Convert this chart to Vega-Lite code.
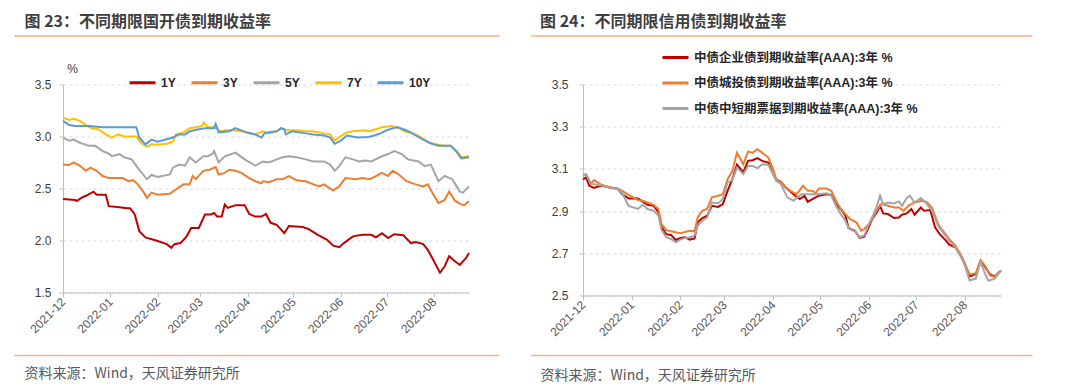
{
  "$schema": "https://vega.github.io/schema/vega-lite/v6.json",
  "background": "white",
  "padding": {"left": 13, "top": 13.5, "right": 0, "bottom": 0},
  "bounds": "flush",
  "spacing": 114,
  "resolve": {"scale": {"color": "independent", "x": "independent", "y": "independent"}, "legend": {"color": "independent"}, "axis": {"x": "independent", "y": "independent"}},
  "config": {
    "font": "Liberation Sans, Noto Sans CJK SC, sans-serif",
    "view": {"stroke": null}
  },
  "datasets": {
    "left": [
      {"t":"2021-12-01","s":"1Y","v":2.40},{"t":"2021-12-09","s":"1Y","v":2.39},{"t":"2021-12-10","s":"1Y","v":2.38},{"t":"2021-12-13","s":"1Y","v":2.41},{"t":"2021-12-16","s":"1Y","v":2.43},{"t":"2021-12-21","s":"1Y","v":2.47},{"t":"2021-12-23","s":"1Y","v":2.44},{"t":"2021-12-29","s":"1Y","v":2.44},{"t":"2021-12-31","s":"1Y","v":2.33},{"t":"2022-01-07","s":"1Y","v":2.32},{"t":"2022-01-12","s":"1Y","v":2.31},{"t":"2022-01-14","s":"1Y","v":2.31},{"t":"2022-01-17","s":"1Y","v":2.25},{"t":"2022-01-20","s":"1Y","v":2.09},{"t":"2022-01-24","s":"1Y","v":2.03},{"t":"2022-01-31","s":"1Y","v":2.00},{"t":"2022-02-07","s":"1Y","v":1.965},{"t":"2022-02-10","s":"1Y","v":1.93},{"t":"2022-02-12","s":"1Y","v":1.965},{"t":"2022-02-16","s":"1Y","v":1.975},{"t":"2022-02-20","s":"1Y","v":2.04},{"t":"2022-02-23","s":"1Y","v":2.12},{"t":"2022-02-28","s":"1Y","v":2.12},{"t":"2022-03-04","s":"1Y","v":2.25},{"t":"2022-03-08","s":"1Y","v":2.25},{"t":"2022-03-10","s":"1Y","v":2.265},{"t":"2022-03-12","s":"1Y","v":2.23},{"t":"2022-03-15","s":"1Y","v":2.23},{"t":"2022-03-17","s":"1Y","v":2.345},{"t":"2022-03-19","s":"1Y","v":2.313},{"t":"2022-03-24","s":"1Y","v":2.34},{"t":"2022-03-30","s":"1Y","v":2.34},{"t":"2022-04-02","s":"1Y","v":2.255},{"t":"2022-04-06","s":"1Y","v":2.23},{"t":"2022-04-10","s":"1Y","v":2.23},{"t":"2022-04-13","s":"1Y","v":2.255},{"t":"2022-04-16","s":"1Y","v":2.17},{"t":"2022-04-20","s":"1Y","v":2.15},{"t":"2022-04-25","s":"1Y","v":2.07},{"t":"2022-04-28","s":"1Y","v":2.14},{"t":"2022-05-07","s":"1Y","v":2.13},{"t":"2022-05-11","s":"1Y","v":2.11},{"t":"2022-05-17","s":"1Y","v":2.055},{"t":"2022-05-23","s":"1Y","v":2.007},{"t":"2022-05-27","s":"1Y","v":1.95},{"t":"2022-05-31","s":"1Y","v":1.936},{"t":"2022-06-03","s":"1Y","v":1.975},{"t":"2022-06-09","s":"1Y","v":2.04},{"t":"2022-06-15","s":"1Y","v":2.055},{"t":"2022-06-21","s":"1Y","v":2.055},{"t":"2022-06-24","s":"1Y","v":2.03},{"t":"2022-06-28","s":"1Y","v":2.07},{"t":"2022-07-02","s":"1Y","v":2.023},{"t":"2022-07-06","s":"1Y","v":2.06},{"t":"2022-07-12","s":"1Y","v":2.05},{"t":"2022-07-17","s":"1Y","v":1.975},{"t":"2022-07-20","s":"1Y","v":1.985},{"t":"2022-07-25","s":"1Y","v":1.965},{"t":"2022-07-28","s":"1Y","v":1.91},{"t":"2022-07-31","s":"1Y","v":1.83},{"t":"2022-08-05","s":"1Y","v":1.69},{"t":"2022-08-08","s":"1Y","v":1.75},{"t":"2022-08-11","s":"1Y","v":1.85},{"t":"2022-08-14","s":"1Y","v":1.81},{"t":"2022-08-18","s":"1Y","v":1.765},{"t":"2022-08-20","s":"1Y","v":1.80},{"t":"2022-08-22","s":"1Y","v":1.83},{"t":"2022-08-24","s":"1Y","v":1.88},
      {"t":"2021-12-01","s":"3Y","v":2.73},{"t":"2021-12-05","s":"3Y","v":2.725},{"t":"2021-12-08","s":"3Y","v":2.75},{"t":"2021-12-12","s":"3Y","v":2.72},{"t":"2021-12-16","s":"3Y","v":2.67},{"t":"2021-12-19","s":"3Y","v":2.70},{"t":"2021-12-23","s":"3Y","v":2.67},{"t":"2021-12-27","s":"3Y","v":2.62},{"t":"2021-12-31","s":"3Y","v":2.60},{"t":"2022-01-06","s":"3Y","v":2.60},{"t":"2022-01-09","s":"3Y","v":2.60},{"t":"2022-01-13","s":"3Y","v":2.57},{"t":"2022-01-16","s":"3Y","v":2.58},{"t":"2022-01-19","s":"3Y","v":2.54},{"t":"2022-01-23","s":"3Y","v":2.46},{"t":"2022-01-25","s":"3Y","v":2.41},{"t":"2022-01-28","s":"3Y","v":2.46},{"t":"2022-02-01","s":"3Y","v":2.44},{"t":"2022-02-09","s":"3Y","v":2.45},{"t":"2022-02-13","s":"3Y","v":2.49},{"t":"2022-02-18","s":"3Y","v":2.54},{"t":"2022-02-22","s":"3Y","v":2.54},{"t":"2022-02-24","s":"3Y","v":2.62},{"t":"2022-02-26","s":"3Y","v":2.59},{"t":"2022-03-03","s":"3Y","v":2.67},{"t":"2022-03-07","s":"3Y","v":2.68},{"t":"2022-03-11","s":"3Y","v":2.705},{"t":"2022-03-13","s":"3Y","v":2.635},{"t":"2022-03-17","s":"3Y","v":2.65},{"t":"2022-03-20","s":"3Y","v":2.68},{"t":"2022-03-24","s":"3Y","v":2.67},{"t":"2022-03-28","s":"3Y","v":2.65},{"t":"2022-04-02","s":"3Y","v":2.60},{"t":"2022-04-06","s":"3Y","v":2.57},{"t":"2022-04-10","s":"3Y","v":2.55},{"t":"2022-04-11","s":"3Y","v":2.57},{"t":"2022-04-15","s":"3Y","v":2.56},{"t":"2022-04-20","s":"3Y","v":2.59},{"t":"2022-04-24","s":"3Y","v":2.59},{"t":"2022-04-28","s":"3Y","v":2.62},{"t":"2022-05-03","s":"3Y","v":2.58},{"t":"2022-05-09","s":"3Y","v":2.57},{"t":"2022-05-14","s":"3Y","v":2.54},{"t":"2022-05-18","s":"3Y","v":2.52},{"t":"2022-05-21","s":"3Y","v":2.54},{"t":"2022-05-27","s":"3Y","v":2.48},{"t":"2022-05-31","s":"3Y","v":2.52},{"t":"2022-06-04","s":"3Y","v":2.60},{"t":"2022-06-11","s":"3Y","v":2.59},{"t":"2022-06-15","s":"3Y","v":2.60},{"t":"2022-06-20","s":"3Y","v":2.59},{"t":"2022-06-24","s":"3Y","v":2.62},{"t":"2022-06-28","s":"3Y","v":2.65},{"t":"2022-07-02","s":"3Y","v":2.62},{"t":"2022-07-05","s":"3Y","v":2.67},{"t":"2022-07-09","s":"3Y","v":2.635},{"t":"2022-07-14","s":"3Y","v":2.57},{"t":"2022-07-20","s":"3Y","v":2.54},{"t":"2022-07-25","s":"3Y","v":2.52},{"t":"2022-07-28","s":"3Y","v":2.54},{"t":"2022-07-31","s":"3Y","v":2.46},{"t":"2022-08-04","s":"3Y","v":2.36},{"t":"2022-08-08","s":"3Y","v":2.39},{"t":"2022-08-11","s":"3Y","v":2.47},{"t":"2022-08-15","s":"3Y","v":2.38},{"t":"2022-08-19","s":"3Y","v":2.345},{"t":"2022-08-21","s":"3Y","v":2.34},{"t":"2022-08-24","s":"3Y","v":2.38},
      {"t":"2021-12-01","s":"5Y","v":2.99},{"t":"2021-12-05","s":"5Y","v":2.96},{"t":"2021-12-08","s":"5Y","v":2.97},{"t":"2021-12-12","s":"5Y","v":2.94},{"t":"2021-12-18","s":"5Y","v":2.91},{"t":"2021-12-22","s":"5Y","v":2.91},{"t":"2021-12-27","s":"5Y","v":2.86},{"t":"2021-12-31","s":"5Y","v":2.835},{"t":"2022-01-02","s":"5Y","v":2.81},{"t":"2022-01-07","s":"5Y","v":2.83},{"t":"2022-01-10","s":"5Y","v":2.80},{"t":"2022-01-15","s":"5Y","v":2.78},{"t":"2022-01-20","s":"5Y","v":2.68},{"t":"2022-01-25","s":"5Y","v":2.59},{"t":"2022-01-28","s":"5Y","v":2.63},{"t":"2022-02-01","s":"5Y","v":2.61},{"t":"2022-02-09","s":"5Y","v":2.635},{"t":"2022-02-11","s":"5Y","v":2.70},{"t":"2022-02-15","s":"5Y","v":2.73},{"t":"2022-02-19","s":"5Y","v":2.72},{"t":"2022-02-22","s":"5Y","v":2.80},{"t":"2022-02-26","s":"5Y","v":2.75},{"t":"2022-03-03","s":"5Y","v":2.81},{"t":"2022-03-06","s":"5Y","v":2.81},{"t":"2022-03-09","s":"5Y","v":2.835},{"t":"2022-03-10","s":"5Y","v":2.86},{"t":"2022-03-13","s":"5Y","v":2.75},{"t":"2022-03-17","s":"5Y","v":2.81},{"t":"2022-03-24","s":"5Y","v":2.845},{"t":"2022-03-30","s":"5Y","v":2.78},{"t":"2022-04-06","s":"5Y","v":2.72},{"t":"2022-04-11","s":"5Y","v":2.76},{"t":"2022-04-15","s":"5Y","v":2.75},{"t":"2022-04-20","s":"5Y","v":2.78},{"t":"2022-04-24","s":"5Y","v":2.80},{"t":"2022-04-28","s":"5Y","v":2.81},{"t":"2022-05-03","s":"5Y","v":2.80},{"t":"2022-05-09","s":"5Y","v":2.78},{"t":"2022-05-14","s":"5Y","v":2.76},{"t":"2022-05-21","s":"5Y","v":2.76},{"t":"2022-05-25","s":"5Y","v":2.73},{"t":"2022-05-28","s":"5Y","v":2.67},{"t":"2022-05-31","s":"5Y","v":2.715},{"t":"2022-06-04","s":"5Y","v":2.80},{"t":"2022-06-09","s":"5Y","v":2.78},{"t":"2022-06-13","s":"5Y","v":2.76},{"t":"2022-06-17","s":"5Y","v":2.77},{"t":"2022-06-21","s":"5Y","v":2.76},{"t":"2022-06-28","s":"5Y","v":2.81},{"t":"2022-07-02","s":"5Y","v":2.83},{"t":"2022-07-06","s":"5Y","v":2.86},{"t":"2022-07-11","s":"5Y","v":2.83},{"t":"2022-07-15","s":"5Y","v":2.78},{"t":"2022-07-22","s":"5Y","v":2.76},{"t":"2022-07-26","s":"5Y","v":2.715},{"t":"2022-07-30","s":"5Y","v":2.73},{"t":"2022-08-04","s":"5Y","v":2.57},{"t":"2022-08-08","s":"5Y","v":2.62},{"t":"2022-08-13","s":"5Y","v":2.59},{"t":"2022-08-18","s":"5Y","v":2.47},{"t":"2022-08-20","s":"5Y","v":2.46},{"t":"2022-08-24","s":"5Y","v":2.52},
      {"t":"2021-12-01","s":"7Y","v":3.18},{"t":"2021-12-05","s":"7Y","v":3.16},{"t":"2021-12-08","s":"7Y","v":3.17},{"t":"2021-12-12","s":"7Y","v":3.15},{"t":"2021-12-15","s":"7Y","v":3.12},{"t":"2021-12-18","s":"7Y","v":3.09},{"t":"2021-12-20","s":"7Y","v":3.08},{"t":"2021-12-24","s":"7Y","v":3.07},{"t":"2021-12-29","s":"7Y","v":3.02},{"t":"2022-01-02","s":"7Y","v":2.99},{"t":"2022-01-06","s":"7Y","v":3.02},{"t":"2022-01-10","s":"7Y","v":3.00},{"t":"2022-01-18","s":"7Y","v":3.00},{"t":"2022-01-21","s":"7Y","v":2.94},{"t":"2022-01-25","s":"7Y","v":2.90},{"t":"2022-01-28","s":"7Y","v":2.925},{"t":"2022-02-01","s":"7Y","v":2.92},{"t":"2022-02-07","s":"7Y","v":2.93},{"t":"2022-02-11","s":"7Y","v":2.95},{"t":"2022-02-13","s":"7Y","v":3.02},{"t":"2022-02-18","s":"7Y","v":3.04},{"t":"2022-02-22","s":"7Y","v":3.08},{"t":"2022-02-26","s":"7Y","v":3.09},{"t":"2022-03-02","s":"7Y","v":3.10},{"t":"2022-03-03","s":"7Y","v":3.135},{"t":"2022-03-06","s":"7Y","v":3.09},{"t":"2022-03-10","s":"7Y","v":3.09},{"t":"2022-03-14","s":"7Y","v":3.05},{"t":"2022-03-17","s":"7Y","v":3.06},{"t":"2022-03-21","s":"7Y","v":3.06},{"t":"2022-03-28","s":"7Y","v":3.05},{"t":"2022-04-06","s":"7Y","v":3.02},{"t":"2022-04-11","s":"7Y","v":3.05},{"t":"2022-04-15","s":"7Y","v":3.03},{"t":"2022-04-20","s":"7Y","v":3.05},{"t":"2022-04-23","s":"7Y","v":3.08},{"t":"2022-04-26","s":"7Y","v":3.06},{"t":"2022-05-03","s":"7Y","v":3.06},{"t":"2022-05-09","s":"7Y","v":3.05},{"t":"2022-05-14","s":"7Y","v":3.05},{"t":"2022-05-21","s":"7Y","v":3.03},{"t":"2022-05-25","s":"7Y","v":3.02},{"t":"2022-05-28","s":"7Y","v":2.96},{"t":"2022-05-31","s":"7Y","v":2.995},{"t":"2022-06-05","s":"7Y","v":3.04},{"t":"2022-06-09","s":"7Y","v":3.05},{"t":"2022-06-16","s":"7Y","v":3.06},{"t":"2022-06-20","s":"7Y","v":3.05},{"t":"2022-06-24","s":"7Y","v":3.07},{"t":"2022-06-28","s":"7Y","v":3.09},{"t":"2022-07-04","s":"7Y","v":3.10},{"t":"2022-07-09","s":"7Y","v":3.08},{"t":"2022-07-13","s":"7Y","v":3.05},{"t":"2022-07-20","s":"7Y","v":3.02},{"t":"2022-07-24","s":"7Y","v":2.99},{"t":"2022-07-29","s":"7Y","v":2.94},{"t":"2022-08-04","s":"7Y","v":2.92},{"t":"2022-08-07","s":"7Y","v":2.91},{"t":"2022-08-12","s":"7Y","v":2.91},{"t":"2022-08-16","s":"7Y","v":2.86},{"t":"2022-08-19","s":"7Y","v":2.80},{"t":"2022-08-24","s":"7Y","v":2.81},
      {"t":"2021-12-01","s":"10Y","v":3.15},{"t":"2021-12-05","s":"10Y","v":3.11},{"t":"2021-12-09","s":"10Y","v":3.10},{"t":"2021-12-18","s":"10Y","v":3.10},{"t":"2021-12-27","s":"10Y","v":3.09},{"t":"2021-12-31","s":"10Y","v":3.09},{"t":"2022-01-09","s":"10Y","v":3.09},{"t":"2022-01-18","s":"10Y","v":3.09},{"t":"2022-01-20","s":"10Y","v":2.99},{"t":"2022-01-24","s":"10Y","v":2.925},{"t":"2022-01-28","s":"10Y","v":2.97},{"t":"2022-02-01","s":"10Y","v":2.95},{"t":"2022-02-11","s":"10Y","v":2.99},{"t":"2022-02-15","s":"10Y","v":3.02},{"t":"2022-02-19","s":"10Y","v":3.02},{"t":"2022-02-22","s":"10Y","v":3.05},{"t":"2022-02-28","s":"10Y","v":3.07},{"t":"2022-03-04","s":"10Y","v":3.08},{"t":"2022-03-10","s":"10Y","v":3.08},{"t":"2022-03-11","s":"10Y","v":3.12},{"t":"2022-03-13","s":"10Y","v":3.04},{"t":"2022-03-20","s":"10Y","v":3.05},{"t":"2022-03-24","s":"10Y","v":3.08},{"t":"2022-03-31","s":"10Y","v":3.04},{"t":"2022-04-06","s":"10Y","v":3.02},{"t":"2022-04-10","s":"10Y","v":2.99},{"t":"2022-04-12","s":"10Y","v":3.03},{"t":"2022-04-15","s":"10Y","v":3.04},{"t":"2022-04-20","s":"10Y","v":3.05},{"t":"2022-04-23","s":"10Y","v":3.08},{"t":"2022-04-25","s":"10Y","v":3.07},{"t":"2022-04-26","s":"10Y","v":3.02},{"t":"2022-04-30","s":"10Y","v":3.05},{"t":"2022-05-09","s":"10Y","v":3.03},{"t":"2022-05-14","s":"10Y","v":3.02},{"t":"2022-05-21","s":"10Y","v":3.01},{"t":"2022-05-25","s":"10Y","v":2.99},{"t":"2022-05-28","s":"10Y","v":2.93},{"t":"2022-06-01","s":"10Y","v":2.96},{"t":"2022-06-05","s":"10Y","v":3.01},{"t":"2022-06-12","s":"10Y","v":2.99},{"t":"2022-06-19","s":"10Y","v":2.995},{"t":"2022-06-23","s":"10Y","v":3.01},{"t":"2022-06-27","s":"10Y","v":3.03},{"t":"2022-07-01","s":"10Y","v":3.06},{"t":"2022-07-08","s":"10Y","v":3.09},{"t":"2022-07-12","s":"10Y","v":3.07},{"t":"2022-07-17","s":"10Y","v":3.04},{"t":"2022-07-20","s":"10Y","v":3.01},{"t":"2022-07-25","s":"10Y","v":2.97},{"t":"2022-07-29","s":"10Y","v":2.94},{"t":"2022-08-04","s":"10Y","v":2.91},{"t":"2022-08-12","s":"10Y","v":2.91},{"t":"2022-08-16","s":"10Y","v":2.85},{"t":"2022-08-19","s":"10Y","v":2.79},{"t":"2022-08-24","s":"10Y","v":2.80}
    ],
    "right": [
      {"t":"2021-12-01","s":"中债企业债到期收益率(AAA):3年 %","v":3.05},{"t":"2021-12-03","s":"中债企业债到期收益率(AAA):3年 %","v":3.06},{"t":"2021-12-05","s":"中债企业债到期收益率(AAA):3年 %","v":3.02},{"t":"2021-12-08","s":"中债企业债到期收益率(AAA):3年 %","v":3.01},{"t":"2021-12-12","s":"中债企业债到期收益率(AAA):3年 %","v":3.02},{"t":"2021-12-16","s":"中债企业债到期收益率(AAA):3年 %","v":3.015},{"t":"2021-12-20","s":"中债企业债到期收益率(AAA):3年 %","v":3.01},{"t":"2021-12-23","s":"中债企业债到期收益率(AAA):3年 %","v":3.005},{"t":"2021-12-26","s":"中债企业债到期收益率(AAA):3年 %","v":2.98},{"t":"2021-12-30","s":"中债企业债到期收益率(AAA):3年 %","v":2.96},{"t":"2022-01-05","s":"中债企业债到期收益率(AAA):3年 %","v":2.96},{"t":"2022-01-08","s":"中债企业债到期收益率(AAA):3年 %","v":2.945},{"t":"2022-01-11","s":"中债企业债到期收益率(AAA):3年 %","v":2.93},{"t":"2022-01-15","s":"中债企业债到期收益率(AAA):3年 %","v":2.925},{"t":"2022-01-18","s":"中债企业债到期收益率(AAA):3年 %","v":2.895},{"t":"2022-01-20","s":"中债企业债到期收益率(AAA):3年 %","v":2.825},{"t":"2022-01-23","s":"中债企业债到期收益率(AAA):3年 %","v":2.79},{"t":"2022-01-26","s":"中债企业债到期收益率(AAA):3年 %","v":2.787},{"t":"2022-01-29","s":"中债企业债到期收益率(AAA):3年 %","v":2.763},{"t":"2022-02-01","s":"中债企业债到期收益率(AAA):3年 %","v":2.773},{"t":"2022-02-04","s":"中债企业债到期收益率(AAA):3年 %","v":2.776},{"t":"2022-02-07","s":"中债企业债到期收益率(AAA):3年 %","v":2.765},{"t":"2022-02-10","s":"中债企业债到期收益率(AAA):3年 %","v":2.77},{"t":"2022-02-12","s":"中债企业债到期收益率(AAA):3年 %","v":2.847},{"t":"2022-02-15","s":"中债企业债到期收益率(AAA):3年 %","v":2.867},{"t":"2022-02-18","s":"中债企业债到期收益率(AAA):3年 %","v":2.878},{"t":"2022-02-21","s":"中债企业债到期收益率(AAA):3年 %","v":2.925},{"t":"2022-02-25","s":"中债企业债到期收益率(AAA):3年 %","v":2.92},{"t":"2022-02-28","s":"中债企业债到期收益率(AAA):3年 %","v":2.933},{"t":"2022-03-03","s":"中债企业债到期收益率(AAA):3年 %","v":2.996},{"t":"2022-03-06","s":"中债企业债到期收益率(AAA):3年 %","v":3.05},{"t":"2022-03-09","s":"中债企业债到期收益率(AAA):3年 %","v":3.12},{"t":"2022-03-13","s":"中债企业债到期收益率(AAA):3年 %","v":3.083},{"t":"2022-03-16","s":"中债企业债到期收益率(AAA):3年 %","v":3.138},{"t":"2022-03-19","s":"中债企业债到期收益率(AAA):3年 %","v":3.141},{"t":"2022-03-22","s":"中债企业债到期收益率(AAA):3年 %","v":3.151},{"t":"2022-03-25","s":"中债企业债到期收益率(AAA):3年 %","v":3.138},{"t":"2022-03-29","s":"中债企业债到期收益率(AAA):3年 %","v":3.13},{"t":"2022-04-01","s":"中债企业债到期收益率(AAA):3年 %","v":3.075},{"t":"2022-04-03","s":"中债企业债到期收益率(AAA):3年 %","v":3.047},{"t":"2022-04-06","s":"中债企业债到期收益率(AAA):3年 %","v":3.036},{"t":"2022-04-09","s":"中债企业债到期收益率(AAA):3年 %","v":3.012},{"t":"2022-04-11","s":"中债企业债到期收益率(AAA):3年 %","v":2.999},{"t":"2022-04-15","s":"中债企业债到期收益率(AAA):3年 %","v":2.973},{"t":"2022-04-18","s":"中债企业债到期收益率(AAA):3年 %","v":2.957},{"t":"2022-04-21","s":"中债企业债到期收益率(AAA):3年 %","v":2.973},{"t":"2022-04-23","s":"中债企业债到期收益率(AAA):3年 %","v":2.944},{"t":"2022-04-26","s":"中债企业债到期收益率(AAA):3年 %","v":2.957},{"t":"2022-04-30","s":"中债企业债到期收益率(AAA):3年 %","v":2.973},{"t":"2022-05-05","s":"中债企业债到期收益率(AAA):3年 %","v":2.98},{"t":"2022-05-08","s":"中债企业债到期收益率(AAA):3年 %","v":2.977},{"t":"2022-05-11","s":"中债企业债到期收益率(AAA):3年 %","v":2.933},{"t":"2022-05-14","s":"中债企业债到期收益率(AAA):3年 %","v":2.91},{"t":"2022-05-17","s":"中债企业债到期收益率(AAA):3年 %","v":2.878},{"t":"2022-05-19","s":"中债企业债到期收益率(AAA):3年 %","v":2.82},{"t":"2022-05-23","s":"中债企业债到期收益率(AAA):3年 %","v":2.807},{"t":"2022-05-26","s":"中债企业债到期收益率(AAA):3年 %","v":2.773},{"t":"2022-05-29","s":"中债企业债到期收益率(AAA):3年 %","v":2.779},{"t":"2022-05-31","s":"中债企业债到期收益率(AAA):3年 %","v":2.81},{"t":"2022-06-03","s":"中债企业债到期收益率(AAA):3年 %","v":2.862},{"t":"2022-06-06","s":"中债企业债到期收益率(AAA):3年 %","v":2.894},{"t":"2022-06-08","s":"中债企业债到期收益率(AAA):3年 %","v":2.925},{"t":"2022-06-10","s":"中债企业债到期收益率(AAA):3年 %","v":2.889},{"t":"2022-06-13","s":"中债企业债到期收益率(AAA):3年 %","v":2.886},{"t":"2022-06-17","s":"中债企业债到期收益率(AAA):3年 %","v":2.867},{"t":"2022-06-20","s":"中债企业债到期收益率(AAA):3年 %","v":2.87},{"t":"2022-06-22","s":"中债企业债到期收益率(AAA):3年 %","v":2.883},{"t":"2022-06-25","s":"中债企业债到期收益率(AAA):3年 %","v":2.889},{"t":"2022-06-28","s":"中债企业债到期收益率(AAA):3年 %","v":2.91},{"t":"2022-06-30","s":"中债企业债到期收益率(AAA):3年 %","v":2.883},{"t":"2022-07-04","s":"中债企业债到期收益率(AAA):3年 %","v":2.917},{"t":"2022-07-06","s":"中债企业债到期收益率(AAA):3年 %","v":2.902},{"t":"2022-07-10","s":"中债企业债到期收益率(AAA):3年 %","v":2.905},{"t":"2022-07-13","s":"中债企业债到期收益率(AAA):3年 %","v":2.823},{"t":"2022-07-16","s":"中债企业债到期收益率(AAA):3年 %","v":2.791},{"t":"2022-07-20","s":"中债企业债到期收益率(AAA):3年 %","v":2.76},{"t":"2022-07-22","s":"中债企业债到期收益率(AAA):3年 %","v":2.741},{"t":"2022-07-26","s":"中债企业债到期收益率(AAA):3年 %","v":2.728},{"t":"2022-07-29","s":"中债企业债到期收益率(AAA):3年 %","v":2.697},{"t":"2022-08-01","s":"中债企业债到期收益率(AAA):3年 %","v":2.65},{"t":"2022-08-04","s":"中债企业债到期收益率(AAA):3年 %","v":2.59},{"t":"2022-08-08","s":"中债企业债到期收益率(AAA):3年 %","v":2.602},{"t":"2022-08-11","s":"中债企业债到期收益率(AAA):3年 %","v":2.665},{"t":"2022-08-14","s":"中债企业债到期收益率(AAA):3年 %","v":2.634},{"t":"2022-08-17","s":"中债企业债到期收益率(AAA):3年 %","v":2.60},{"t":"2022-08-20","s":"中债企业债到期收益率(AAA):3年 %","v":2.59},{"t":"2022-08-24","s":"中债企业债到期收益率(AAA):3年 %","v":2.618},
      {"t":"2021-12-01","s":"中债城投债到期收益率(AAA):3年 %","v":3.07},{"t":"2021-12-03","s":"中债城投债到期收益率(AAA):3年 %","v":3.075},{"t":"2021-12-06","s":"中债城投债到期收益率(AAA):3年 %","v":3.03},{"t":"2021-12-08","s":"中债城投债到期收益率(AAA):3年 %","v":3.047},{"t":"2021-12-12","s":"中债城投债到期收益率(AAA):3年 %","v":3.028},{"t":"2021-12-18","s":"中债城投债到期收益率(AAA):3年 %","v":3.012},{"t":"2021-12-23","s":"中债城投债到期收益率(AAA):3年 %","v":3.007},{"t":"2021-12-26","s":"中债城投债到期收益率(AAA):3年 %","v":2.996},{"t":"2021-12-30","s":"中债城投债到期收益率(AAA):3年 %","v":2.977},{"t":"2022-01-05","s":"中债城投债到期收益率(AAA):3年 %","v":2.952},{"t":"2022-01-08","s":"中债城投债到期收益率(AAA):3年 %","v":2.949},{"t":"2022-01-11","s":"中债城投债到期收益率(AAA):3年 %","v":2.941},{"t":"2022-01-15","s":"中债城投债到期收益率(AAA):3年 %","v":2.93},{"t":"2022-01-18","s":"中债城投债到期收益率(AAA):3年 %","v":2.91},{"t":"2022-01-20","s":"中债城投债到期收益率(AAA):3年 %","v":2.838},{"t":"2022-01-23","s":"中债城投债到期收益率(AAA):3年 %","v":2.81},{"t":"2022-01-26","s":"中债城投债到期收益率(AAA):3年 %","v":2.804},{"t":"2022-01-29","s":"中债城投债到期收益率(AAA):3年 %","v":2.80},{"t":"2022-02-01","s":"中债城投债到期收益率(AAA):3年 %","v":2.795},{"t":"2022-02-07","s":"中债城投债到期收益率(AAA):3年 %","v":2.807},{"t":"2022-02-10","s":"中债城投债到期收益率(AAA):3年 %","v":2.804},{"t":"2022-02-12","s":"中债城投债到期收益率(AAA):3年 %","v":2.87},{"t":"2022-02-15","s":"中债城投债到期收益率(AAA):3年 %","v":2.902},{"t":"2022-02-18","s":"中债城投债到期收益率(AAA):3年 %","v":2.91},{"t":"2022-02-21","s":"中债城投债到期收益率(AAA):3年 %","v":2.965},{"t":"2022-02-25","s":"中债城投债到期收益率(AAA):3年 %","v":2.973},{"t":"2022-02-28","s":"中债城投债到期收益率(AAA):3年 %","v":2.98},{"t":"2022-03-03","s":"中债城投债到期收益率(AAA):3年 %","v":3.051},{"t":"2022-03-06","s":"中债城投债到期收益率(AAA):3年 %","v":3.09},{"t":"2022-03-09","s":"中债城投债到期收益率(AAA):3年 %","v":3.177},{"t":"2022-03-13","s":"中债城投债到期收益率(AAA):3年 %","v":3.122},{"t":"2022-03-16","s":"中债城投债到期收益率(AAA):3年 %","v":3.182},{"t":"2022-03-19","s":"中债城投债到期收益率(AAA):3年 %","v":3.177},{"t":"2022-03-22","s":"中债城投债到期收益率(AAA):3年 %","v":3.193},{"t":"2022-03-25","s":"中债城投债到期收益率(AAA):3年 %","v":3.177},{"t":"2022-03-29","s":"中债城投债到期收益率(AAA):3年 %","v":3.154},{"t":"2022-04-01","s":"中债城投债到期收益率(AAA):3年 %","v":3.099},{"t":"2022-04-03","s":"中债城投债到期收益率(AAA):3年 %","v":3.051},{"t":"2022-04-06","s":"中债城投债到期收益率(AAA):3年 %","v":3.04},{"t":"2022-04-09","s":"中债城投债到期收益率(AAA):3年 %","v":3.012},{"t":"2022-04-12","s":"中债城投债到期收益率(AAA):3年 %","v":2.996},{"t":"2022-04-16","s":"中债城投债到期收益率(AAA):3年 %","v":2.98},{"t":"2022-04-20","s":"中债城投债到期收益率(AAA):3年 %","v":3.02},{"t":"2022-04-23","s":"中债城投债到期收益率(AAA):3年 %","v":2.996},{"t":"2022-04-26","s":"中债城投债到期收益率(AAA):3年 %","v":2.996},{"t":"2022-04-28","s":"中债城投债到期收益率(AAA):3年 %","v":2.984},{"t":"2022-04-30","s":"中债城投债到期收益率(AAA):3年 %","v":3.007},{"t":"2022-05-05","s":"中债城投债到期收益率(AAA):3年 %","v":3.007},{"t":"2022-05-08","s":"中债城投债到期收益率(AAA):3年 %","v":2.996},{"t":"2022-05-11","s":"中债城投债到期收益率(AAA):3年 %","v":2.949},{"t":"2022-05-14","s":"中债城投债到期收益率(AAA):3年 %","v":2.91},{"t":"2022-05-17","s":"中债城投债到期收益率(AAA):3年 %","v":2.886},{"t":"2022-05-20","s":"中债城投债到期收益率(AAA):3年 %","v":2.862},{"t":"2022-05-24","s":"中债城投债到期收益率(AAA):3年 %","v":2.847},{"t":"2022-05-27","s":"中债城投债到期收益率(AAA):3年 %","v":2.807},{"t":"2022-05-29","s":"中债城投债到期收益率(AAA):3年 %","v":2.815},{"t":"2022-06-01","s":"中债城投债到期收益率(AAA):3年 %","v":2.839},{"t":"2022-06-04","s":"中债城投债到期收益率(AAA):3年 %","v":2.878},{"t":"2022-06-07","s":"中债城投债到期收益率(AAA):3年 %","v":2.917},{"t":"2022-06-09","s":"中债城投债到期收益率(AAA):3年 %","v":2.933},{"t":"2022-06-13","s":"中债城投债到期收益率(AAA):3年 %","v":2.925},{"t":"2022-06-17","s":"中债城投债到期收益率(AAA):3年 %","v":2.917},{"t":"2022-06-20","s":"中债城投债到期收益率(AAA):3年 %","v":2.917},{"t":"2022-06-23","s":"中债城投债到期收益率(AAA):3年 %","v":2.902},{"t":"2022-06-26","s":"中债城投债到期收益率(AAA):3年 %","v":2.925},{"t":"2022-06-30","s":"中债城投债到期收益率(AAA):3年 %","v":2.941},{"t":"2022-07-05","s":"中债城投债到期收益率(AAA):3年 %","v":2.949},{"t":"2022-07-08","s":"中债城投债到期收益率(AAA):3年 %","v":2.941},{"t":"2022-07-11","s":"中债城投债到期收益率(AAA):3年 %","v":2.917},{"t":"2022-07-15","s":"中债城投债到期收益率(AAA):3年 %","v":2.839},{"t":"2022-07-18","s":"中债城投债到期收益率(AAA):3年 %","v":2.807},{"t":"2022-07-22","s":"中债城投债到期收益率(AAA):3年 %","v":2.768},{"t":"2022-07-26","s":"中债城投债到期收益率(AAA):3年 %","v":2.736},{"t":"2022-07-29","s":"中债城投债到期收益率(AAA):3年 %","v":2.697},{"t":"2022-08-01","s":"中债城投债到期收益率(AAA):3年 %","v":2.65},{"t":"2022-08-04","s":"中债城投债到期收益率(AAA):3年 %","v":2.60},{"t":"2022-08-08","s":"中债城投债到期收益率(AAA):3年 %","v":2.605},{"t":"2022-08-11","s":"中债城投债到期收益率(AAA):3年 %","v":2.668},{"t":"2022-08-14","s":"中债城投债到期收益率(AAA):3年 %","v":2.64},{"t":"2022-08-17","s":"中债城投债到期收益率(AAA):3年 %","v":2.595},{"t":"2022-08-20","s":"中债城投债到期收益率(AAA):3年 %","v":2.587},{"t":"2022-08-24","s":"中债城投债到期收益率(AAA):3年 %","v":2.62},
      {"t":"2021-12-01","s":"中债中短期票据到期收益率(AAA):3年 %","v":3.067},{"t":"2021-12-03","s":"中债中短期票据到期收益率(AAA):3年 %","v":3.075},{"t":"2021-12-06","s":"中债中短期票据到期收益率(AAA):3年 %","v":3.03},{"t":"2021-12-12","s":"中债中短期票据到期收益率(AAA):3年 %","v":3.023},{"t":"2021-12-18","s":"中债中短期票据到期收益率(AAA):3年 %","v":3.009},{"t":"2021-12-23","s":"中债中短期票据到期收益率(AAA):3年 %","v":3.004},{"t":"2021-12-26","s":"中债中短期票据到期收益率(AAA):3年 %","v":2.984},{"t":"2021-12-30","s":"中债中短期票据到期收益率(AAA):3年 %","v":2.925},{"t":"2022-01-05","s":"中债中短期票据到期收益率(AAA):3年 %","v":2.91},{"t":"2022-01-08","s":"中债中短期票据到期收益率(AAA):3年 %","v":2.93},{"t":"2022-01-11","s":"中债中短期票据到期收益率(AAA):3年 %","v":2.91},{"t":"2022-01-15","s":"中债中短期票据到期收益率(AAA):3年 %","v":2.902},{"t":"2022-01-18","s":"中债中短期票据到期收益率(AAA):3年 %","v":2.878},{"t":"2022-01-20","s":"中债中短期票据到期收益率(AAA):3年 %","v":2.81},{"t":"2022-01-23","s":"中债中短期票据到期收益率(AAA):3年 %","v":2.776},{"t":"2022-01-26","s":"中债中短期票据到期收益率(AAA):3年 %","v":2.768},{"t":"2022-01-29","s":"中债中短期票据到期收益率(AAA):3年 %","v":2.752},{"t":"2022-02-01","s":"中债中短期票据到期收益率(AAA):3年 %","v":2.765},{"t":"2022-02-04","s":"中债中短期票据到期收益率(AAA):3年 %","v":2.773},{"t":"2022-02-07","s":"中债中短期票据到期收益率(AAA):3年 %","v":2.776},{"t":"2022-02-10","s":"中债中短期票据到期收益率(AAA):3年 %","v":2.784},{"t":"2022-02-12","s":"中债中短期票据到期收益率(AAA):3年 %","v":2.831},{"t":"2022-02-15","s":"中债中短期票据到期收益率(AAA):3年 %","v":2.854},{"t":"2022-02-18","s":"中债中短期票据到期收益率(AAA):3年 %","v":2.87},{"t":"2022-02-21","s":"中债中短期票据到期收益率(AAA):3年 %","v":2.941},{"t":"2022-02-25","s":"中债中短期票据到期收益率(AAA):3年 %","v":2.936},{"t":"2022-02-28","s":"中债中短期票据到期收益率(AAA):3年 %","v":2.957},{"t":"2022-03-03","s":"中债中短期票据到期收益率(AAA):3年 %","v":3.036},{"t":"2022-03-06","s":"中债中短期票据到期收益率(AAA):3年 %","v":3.047},{"t":"2022-03-09","s":"中债中短期票据到期收益率(AAA):3年 %","v":3.106},{"t":"2022-03-13","s":"中债中短期票据到期收益率(AAA):3年 %","v":3.075},{"t":"2022-03-16","s":"中债中短期票据到期收益率(AAA):3年 %","v":3.114},{"t":"2022-03-19","s":"中债中短期票据到期收益率(AAA):3年 %","v":3.114},{"t":"2022-03-22","s":"中债中短期票据到期收益率(AAA):3年 %","v":3.103},{"t":"2022-03-25","s":"中债中短期票据到期收益率(AAA):3年 %","v":3.122},{"t":"2022-03-29","s":"中债中短期票据到期收益率(AAA):3年 %","v":3.119},{"t":"2022-04-01","s":"中债中短期票据到期收益率(AAA):3年 %","v":3.075},{"t":"2022-04-03","s":"中债中短期票据到期收益率(AAA):3年 %","v":3.043},{"t":"2022-04-06","s":"中债中短期票据到期收益率(AAA):3年 %","v":3.028},{"t":"2022-04-08","s":"中债中短期票据到期收益率(AAA):3年 %","v":2.996},{"t":"2022-04-10","s":"中债中短期票据到期收益率(AAA):3年 %","v":2.965},{"t":"2022-04-14","s":"中债中短期票据到期收益率(AAA):3年 %","v":2.949},{"t":"2022-04-16","s":"中债中短期票据到期收益率(AAA):3年 %","v":2.962},{"t":"2022-04-19","s":"中债中短期票据到期收益率(AAA):3年 %","v":2.98},{"t":"2022-04-22","s":"中债中短期票据到期收益率(AAA):3年 %","v":2.98},{"t":"2022-04-26","s":"中债中短期票据到期收益率(AAA):3年 %","v":2.98},{"t":"2022-04-30","s":"中债中短期票据到期收益率(AAA):3年 %","v":2.98},{"t":"2022-05-05","s":"中债中短期票据到期收益率(AAA):3年 %","v":2.984},{"t":"2022-05-08","s":"中债中短期票据到期收益率(AAA):3年 %","v":2.973},{"t":"2022-05-11","s":"中债中短期票据到期收益率(AAA):3年 %","v":2.925},{"t":"2022-05-14","s":"中债中短期票据到期收益率(AAA):3年 %","v":2.886},{"t":"2022-05-17","s":"中债中短期票据到期收益率(AAA):3年 %","v":2.854},{"t":"2022-05-19","s":"中债中短期票据到期收益率(AAA):3年 %","v":2.82},{"t":"2022-05-23","s":"中债中短期票据到期收益率(AAA):3年 %","v":2.81},{"t":"2022-05-26","s":"中债中短期票据到期收益率(AAA):3年 %","v":2.776},{"t":"2022-05-29","s":"中债中短期票据到期收益率(AAA):3年 %","v":2.784},{"t":"2022-06-01","s":"中债中短期票据到期收益率(AAA):3年 %","v":2.839},{"t":"2022-06-04","s":"中债中短期票据到期收益率(AAA):3年 %","v":2.886},{"t":"2022-06-06","s":"中债中短期票据到期收益率(AAA):3年 %","v":2.925},{"t":"2022-06-08","s":"中债中短期票据到期收益率(AAA):3年 %","v":2.973},{"t":"2022-06-10","s":"中债中短期票据到期收益率(AAA):3年 %","v":2.933},{"t":"2022-06-13","s":"中债中短期票据到期收益率(AAA):3年 %","v":2.941},{"t":"2022-06-17","s":"中债中短期票据到期收益率(AAA):3年 %","v":2.936},{"t":"2022-06-20","s":"中债中短期票据到期收益率(AAA):3年 %","v":2.946},{"t":"2022-06-22","s":"中债中短期票据到期收益率(AAA):3年 %","v":2.925},{"t":"2022-06-25","s":"中债中短期票据到期收益率(AAA):3年 %","v":2.962},{"t":"2022-06-27","s":"中债中短期票据到期收益率(AAA):3年 %","v":2.973},{"t":"2022-06-30","s":"中债中短期票据到期收益率(AAA):3年 %","v":2.941},{"t":"2022-07-04","s":"中债中短期票据到期收益率(AAA):3年 %","v":2.962},{"t":"2022-07-07","s":"中债中短期票据到期收益率(AAA):3年 %","v":2.941},{"t":"2022-07-11","s":"中债中短期票据到期收益率(AAA):3年 %","v":2.902},{"t":"2022-07-15","s":"中债中短期票据到期收益率(AAA):3年 %","v":2.831},{"t":"2022-07-18","s":"中债中短期票据到期收益率(AAA):3年 %","v":2.799},{"t":"2022-07-22","s":"中债中短期票据到期收益率(AAA):3年 %","v":2.76},{"t":"2022-07-26","s":"中债中短期票据到期收益率(AAA):3年 %","v":2.728},{"t":"2022-07-29","s":"中债中短期票据到期收益率(AAA):3年 %","v":2.689},{"t":"2022-08-01","s":"中债中短期票据到期收益率(AAA):3年 %","v":2.642},{"t":"2022-08-04","s":"中债中短期票据到期收益率(AAA):3年 %","v":2.571},{"t":"2022-08-08","s":"中债中短期票据到期收益率(AAA):3年 %","v":2.58},{"t":"2022-08-11","s":"中债中短期票据到期收益率(AAA):3年 %","v":2.66},{"t":"2022-08-14","s":"中债中短期票据到期收益率(AAA):3年 %","v":2.60},{"t":"2022-08-16","s":"中债中短期票据到期收益率(AAA):3年 %","v":2.57},{"t":"2022-08-20","s":"中债中短期票据到期收益率(AAA):3年 %","v":2.58},{"t":"2022-08-24","s":"中债中短期票据到期收益率(AAA):3年 %","v":2.618}
    ]
  },
  "hconcat": [
    {
      "width": 406,
      "height": 208,
      "resolve": {"axis": {"x": "independent"}},
      "layer": [
        {
          "data": {"name": "left"},
          "mark": {"type": "line", "strokeWidth": 2},
          "encoding": {
            "x": {"field": "t", "type": "temporal",
              "scale": {"type": "utc", "nice": false, "domain": [{"year": 2021, "month": 12, "date": 1, "utc": true}, {"year": 2022, "month": 8, "date": 24, "utc": true}]},
              "axis": {"orient": "bottom", "title": "资料来源：Wind，天风证券研究所", "titleX": -39, "titleY": 80.5, "titleAlign": "left", "titleBaseline": "middle", "titleFont": "Noto Sans CJK SC", "titleFontSize": 14, "titleFontWeight": "normal", "titleColor": "#595959",
                "labelExpr": "utcFormat(datum.value, '%Y-%m')", "tickCount": {"interval": "month", "step": 1}, "labelAngle": -45, "labelAlign": "right", "labelBaseline": "middle", "labelPadding": 3, "labelFontSize": 12, "labelColor": "#595959", "labelOverlap": false, "labelFlush": false, "grid": false, "domainColor": "#bfbfbf", "tickColor": "#bfbfbf", "tickSize": 4}},
            "y": {"field": "v", "type": "quantitative",
              "scale": {"domain": [1.5, 3.5], "nice": false, "zero": false},
              "axis": {"title": "%", "titleAngle": 0, "titleX": 9, "titleY": -16.5, "titleAlign": "center", "titleBaseline": "middle", "titleFontSize": 12, "titleFontWeight": "normal", "titleColor": "#404040",
                "values": [1.5, 2, 2.5, 3, 3.5], "format": ".1f", "labelFontSize": 12, "labelColor": "#404040", "labelPadding": 8, "grid": true, "gridColor": "#d9d9d9", "gridDash": [3, 3], "domainColor": "#bfbfbf", "tickColor": "#bfbfbf", "tickSize": 4}},
            "color": {"field": "s", "type": "nominal",
              "scale": {"domain": ["1Y", "3Y", "5Y", "7Y", "10Y"], "range": ["#C00000", "#ED7D31", "#A5A5A5", "#FFC000", "#5B9BD5"]},
              "legend": {"title": null, "orient": "none", "legendX": 65, "legendY": -16.5, "direction": "horizontal", "symbolType": "stroke", "symbolSize": 676, "symbolStrokeWidth": 3, "labelFontSize": 12, "labelFontWeight": "bold", "labelColor": "#262626", "labelOffset": 4, "columnPadding": 9, "padding": 0}}
          }
        },
        {
          "data": {"values": [{}]},
          "mark": {"type": "rule", "color": "#F4B183", "strokeWidth": 1.5},
          "encoding": {
            "x": {"datum": {"year": 2021, "month": 10, "date": 30, "utc": true}, "type": "temporal",
              "axis": {"orient": "top", "title": "图 23：不同期限国开债到期收益率", "titleX": -39, "titleY": -63, "titleAlign": "left", "titleAnchor": "start", "titleBaseline": "middle", "titleFont": "Noto Sans CJK SC", "titleFontSize": 16, "titleFontWeight": "bold", "titleColor": "#3F3F3F", "labels": false, "ticks": false, "domain": false, "grid": false}},
            "x2": {"datum": {"year": 2022, "month": 9, "date": 13, "utc": true}},
            "y": {"datum": 3.966, "type": "quantitative"}
          }
        },
        {
          "data": {"values": [{}]},
          "mark": {"type": "rule", "color": "#F4B183", "strokeWidth": 1.5},
          "encoding": {
            "x": {"datum": {"year": 2021, "month": 10, "date": 30, "utc": true}, "type": "temporal", "axis": null},
            "x2": {"datum": {"year": 2022, "month": 9, "date": 13, "utc": true}},
            "y": {"datum": 0.894, "type": "quantitative"}
          }
        }
      ]
    },
    {
      "width": 418,
      "height": 211,
      "resolve": {"axis": {"x": "independent"}},
      "layer": [
        {
          "data": {"name": "right"},
          "mark": {"type": "line", "strokeWidth": 2},
          "encoding": {
            "x": {"field": "t", "type": "temporal",
              "scale": {"type": "utc", "nice": false, "domain": [{"year": 2021, "month": 12, "date": 1, "utc": true}, {"year": 2022, "month": 8, "date": 24, "utc": true}]},
              "axis": {"orient": "bottom", "title": "资料来源：Wind，天风证券研究所", "titleX": -43, "titleY": 79.5, "titleAlign": "left", "titleBaseline": "middle", "titleFont": "Noto Sans CJK SC", "titleFontSize": 14, "titleFontWeight": "normal", "titleColor": "#595959",
                "labelExpr": "utcFormat(datum.value, '%Y-%m')", "tickCount": {"interval": "month", "step": 1}, "labelAngle": -45, "labelAlign": "right", "labelBaseline": "middle", "labelPadding": 3, "labelFontSize": 12, "labelColor": "#595959", "labelOverlap": false, "labelFlush": false, "grid": false, "domainColor": "#bfbfbf", "tickColor": "#bfbfbf", "tickSize": 4}},
            "y": {"field": "v", "type": "quantitative",
              "scale": {"domain": [2.5, 3.5], "nice": false, "zero": false},
              "axis": {"title": null, "values": [2.5, 2.7, 2.9, 3.1, 3.3, 3.5], "format": ".1f", "labelFontSize": 12, "labelColor": "#404040", "labelPadding": 11, "grid": true, "gridColor": "#d9d9d9", "gridDash": [3, 3], "domainColor": "#bfbfbf", "tickColor": "#bfbfbf", "tickSize": 4}},
            "color": {"field": "s", "type": "nominal",
              "scale": {"domain": ["中债企业债到期收益率(AAA):3年 %", "中债城投债到期收益率(AAA):3年 %", "中债中短期票据到期收益率(AAA):3年 %"], "range": ["#C00000", "#ED7D31", "#A5A5A5"]},
              "legend": {"title": null, "orient": "none", "legendX": 78, "legendY": -41.5, "direction": "vertical", "symbolType": "stroke", "symbolSize": 676, "symbolStrokeWidth": 3, "labelFontSize": 12.5, "labelFontWeight": "bold", "labelColor": "#262626", "labelOffset": 4, "labelLimit": 400, "rowPadding": 4.5, "padding": 0}}
          }
        },
        {
          "data": {"values": [{}]},
          "mark": {"type": "rule", "color": "#F4B183", "strokeWidth": 1.5},
          "encoding": {
            "x": {"datum": {"year": 2021, "month": 10, "date": 29, "utc": true}, "type": "temporal",
              "axis": {"orient": "top", "title": "图 24：不同期限信用债到期收益率", "titleX": -43.5, "titleY": -63, "titleAlign": "left", "titleAnchor": "start", "titleBaseline": "middle", "titleFont": "Noto Sans CJK SC", "titleFontSize": 16, "titleFontWeight": "bold", "titleColor": "#3F3F3F", "labels": false, "ticks": false, "domain": false, "grid": false}},
            "x2": {"datum": {"year": 2022, "month": 9, "date": 13, "utc": true}},
            "y": {"datum": 3.73, "type": "quantitative"}
          }
        },
        {
          "data": {"values": [{}]},
          "mark": {"type": "rule", "color": "#F4B183", "strokeWidth": 1.5},
          "encoding": {
            "x": {"datum": {"year": 2021, "month": 10, "date": 29, "utc": true}, "type": "temporal", "axis": null},
            "x2": {"datum": {"year": 2022, "month": 9, "date": 13, "utc": true}},
            "y": {"datum": 2.2156, "type": "quantitative"}
          }
        }
      ]
    }
  ]
}
